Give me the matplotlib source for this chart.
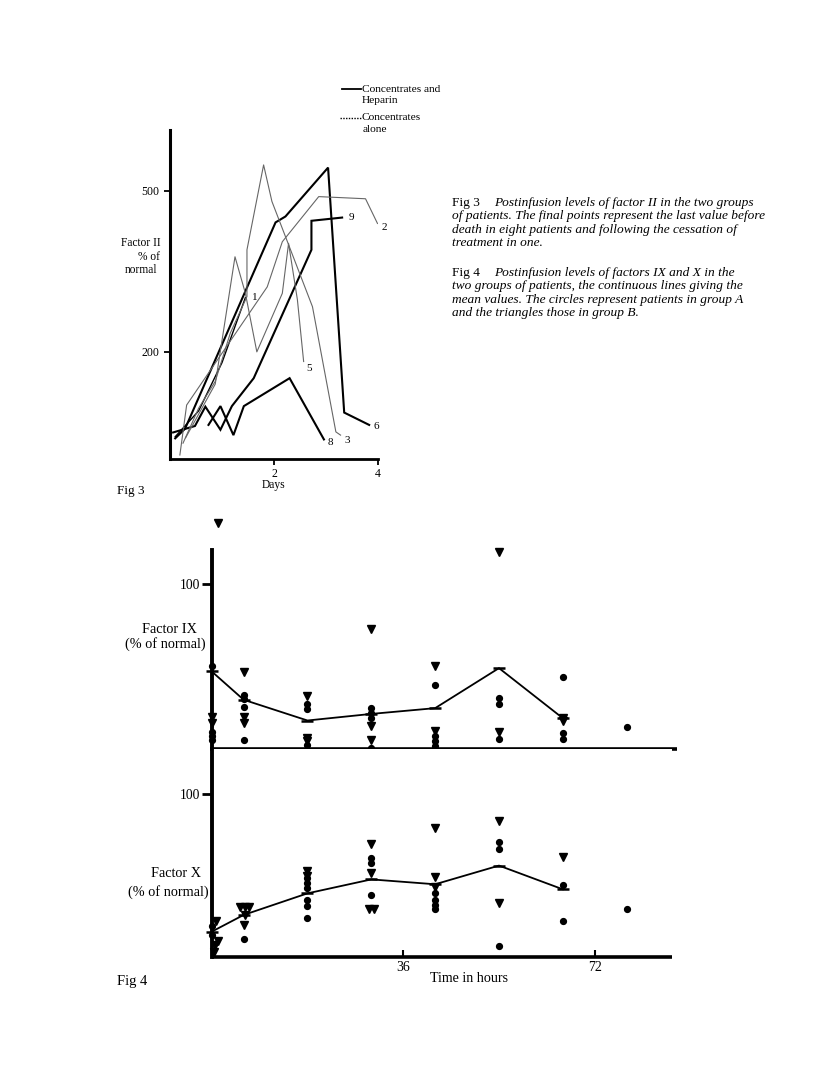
import matplotlib
matplotlib.use("Agg")
import matplotlib.pyplot as plt
from matplotlib.lines import Line2D

plt.rcParams['font.family'] = ['Liberation Serif', 'DejaVu Serif']

# ---------------- Fig 3 data (days, factor II % of normal) ----------------
line1_days = [0.1, 0.55, 1.0, 1.45]
line1_vals = [42, 90, 180, 301]
line2_days = [0.19, 0.32, 1.87, 2.16, 2.86, 3.76, 3.99]
line2_vals = [8, 101, 321, 405, 489, 485, 439]
line3_days = [0.25, 0.55, 0.87, 1.16, 1.48, 1.48, 1.80, 1.96, 2.74, 3.19, 3.28]
line3_vals = [30, 95, 145, 235, 303, 390, 548, 480, 284, 51, 45]
line5_days = [0.3, 0.87, 1.25, 1.45, 1.67, 2.16, 2.28, 2.45, 2.57]
line5_vals = [40, 140, 377, 309, 200, 309, 402, 297, 182]
line6_days = [0.1, 0.29, 2.03, 2.22, 3.04, 3.35, 3.83]
line6_vals = [39, 57, 441, 452, 543, 87, 64]
line8_days = [0.74, 0.97, 1.22, 1.42, 2.30, 2.96]
line8_vals = [64, 99, 45, 99, 151, 37]
line9_days = [0.06, 0.48, 0.68, 0.97, 1.19, 1.61, 2.72, 2.72, 3.31]
line9_vals = [50, 62, 98, 55, 99, 151, 390, 444, 450]
heparin_lines = {"1": (line1_days, line1_vals), "6": (line6_days, line6_vals),
                 "8": (line8_days, line8_vals), "9": (line9_days, line9_vals)}
alone_lines = {"2": (line2_days, line2_vals), "3": (line3_days, line3_vals),
               "5": (line5_days, line5_vals)}
fig3_xticks = [2, 4]
fig3_yticks = [200, 500]

# ---------------- Fig 4 data (hours, % of normal) ----------------
ix_circle_hours = [0, 0, 0, 0, 6, 6, 6, 6, 18, 18, 18, 30, 30, 30, 30,
                   42, 42, 42, 42, 54, 54, 54, 66, 66, 66, 78]
ix_circle_vals = [49.8, 10.3, 7.3, 5.3, 32.6, 30.0, 25.5, 5.3, 26.9, 23.9, 2.2,
                  24.5, 21.5, 18.4, 0.6, 38.7, 7.3, 4.7, 1.6, 30.6, 26.9, 5.7,
                  43.7, 9.7, 5.7, 13.0]
ix_tri_hours = [1.2, 0, 0, 6, 6, 6, 18, 18, 18, 30, 30, 30, 42, 42, 54, 54, 66, 66]
ix_tri_vals = [137, 19.4, 15.4, 46.4, 19.4, 15.4, 31.6, 6.3, 4.3, 72.5, 13.8, 5.3,
               49.8, 10.9, 119.6, 10.3, 18.4, 16.4]
mean_hours = [0, 6, 18, 30, 42, 54, 66]
ix_mean = [46.8, 29.6, 17.0, 21.0, 24.5, 48.8, 18.4]

x_circle_hours = [0, 0, 6, 18, 18, 18, 18, 18, 18, 30, 30, 30,
                  42, 42, 42, 42, 54, 54, 54, 66, 66, 78]
x_circle_vals = [18.9, 13.3, 10.7, 48.3, 45.2, 42.1, 34.9, 31.2, 24.0, 60.6, 57.5, 38.0,
                 39.0, 34.9, 31.8, 29.2, 70.8, 66.3, 6.8, 44.1, 22.0, 29.2]
x_tri_hours = [0.85, 1.16, 0.7, 0.5, 5.3, 6.2, 7.1, 6.2, 6.0, 18, 18,
               30, 30, 29.5, 30.6, 42, 42, 42, 54, 54, 66]
x_tri_vals = [22.2, 9.9, 7.2, 3.1, 30.4, 30.4, 30.4, 25.7, 19.5, 53.0, 49.5,
              69.4, 51.7, 29.6, 29.6, 79.1, 49.3, 42.7, 83.8, 33.3, 61.2]
x_mean = [15.4, 25.7, 39.0, 47.6, 44.6, 56.1, 41.5]
fig4_xticks = [36, 72]
fig4_yticks = [100]

# ---------------- layout helpers ----------------
W, H = 816, 1086
fig = plt.figure(figsize=(W / 100, H / 100), dpi=100)


def fx(x):
    return x / W


def fy(y):
    return 1 - y / H


def ftext(x, y, s, **kw):
    kw.setdefault('va', 'center')
    kw.setdefault('color', 'black')
    fig.text(fx(x), fy(y), s, **kw)


# ================= Fig 3 =================
ax3 = fig.add_axes([fx(170), fy(459.3), (378 - 170) / W, (459.3 - 130) / H])
ax3.set_xlim(0, 4)
ax3.set_ylim(0, 613)
for s in ['top', 'right']:
    ax3.spines[s].set_visible(False)
ax3.spines['left'].set_linewidth(2.2)
ax3.spines['bottom'].set_linewidth(2.0)
ax3.set_xticks(fig3_xticks)
ax3.set_yticks(fig3_yticks)
ax3.tick_params(axis='both', length=4, width=1.3, labelsize=8.5, pad=2.5, direction='out')
ax3.tick_params(axis='y', pad=3.5)

label_offsets = {"1": (5, 0), "6": (3, -1), "8": (3, -2), "9": (5, 0),
                 "2": (3, -3), "3": (3, -4), "5": (2, -5)}
for name, (d, v) in heparin_lines.items():
    ax3.plot(d, v, color='black', lw=1.5 if name != "1" else 1.0, solid_joinstyle='miter')
    ox, oy = label_offsets[name]
    ax3.annotate(name, (d[-1], v[-1]), xytext=(ox, oy), textcoords='offset points',
                 fontsize=8, va='center', ha='left')
for name, (d, v) in alone_lines.items():
    ax3.plot(d, v, color='0.4', lw=0.8)
    ox, oy = label_offsets[name]
    ax3.annotate(name, (d[-1], v[-1]), xytext=(ox, oy), textcoords='offset points',
                 fontsize=8, va='center', ha='left')

ftext(141, 243.3, "Factor II", fontsize=8.3, ha='center')
ftext(149, 257.3, "% of", fontsize=8.3, ha='center')
ftext(141, 270, "normal", fontsize=8.3, ha='center')
ftext(274, 485, "Days", fontsize=8.3, ha='center')
ftext(117, 491, "Fig 3", fontsize=9.5, ha='left')

# legend
fig.add_artist(Line2D([fx(342), fx(361)], [fy(89.3), fy(89.3)], color='black', lw=1.3))
fig.add_artist(Line2D([fx(340), fx(361)], [fy(117.7), fy(117.7)], color='black', lw=1.0,
                      ls=(0, (1, 1))))
ftext(361.5, 89.3, "Concentrates and", fontsize=8.2, ha='left')
ftext(361.5, 100.5, "Heparin", fontsize=8.2, ha='left')
ftext(362, 117.7, "Concentrates", fontsize=8.2, ha='left')
ftext(363, 129.5, "alone", fontsize=8.2, ha='left')

# captions
cap_fs = 9.6
c3 = [203, 216.3, 229.6, 243]
c4 = [273, 286.3, 299.6, 313]
ftext(452, c3[0], "Fig 3", fontsize=cap_fs, ha='left')
ftext(494, c3[0], "Postinfusion levels of factor II in the two groups", fontsize=cap_fs,
      ha='left', style='italic')
ftext(452, c3[1], "of patients. The final points represent the last value before",
      fontsize=cap_fs, ha='left', style='italic')
ftext(452, c3[2], "death in eight patients and following the cessation of",
      fontsize=cap_fs, ha='left', style='italic')
ftext(452, c3[3], "treatment in one.", fontsize=cap_fs, ha='left', style='italic')
ftext(452, c4[0], "Fig 4", fontsize=cap_fs, ha='left')
ftext(494, c4[0], "Postinfusion levels of factors IX and X in the", fontsize=cap_fs,
      ha='left', style='italic')
ftext(452, c4[1], "two groups of patients, the continuous lines giving the",
      fontsize=cap_fs, ha='left', style='italic')
ftext(452, c4[2], "mean values. The circles represent patients in group A",
      fontsize=cap_fs, ha='left', style='italic')
ftext(452, c4[3], "and the triangles those in group B.", fontsize=cap_fs, ha='left',
      style='italic')

# ================= Fig 4 =================
axT = fig.add_axes([fx(211.7), fy(748.5), (677 - 211.7) / W, (748.5 - 550) / H])
axT.set_xlim(0, (677 - 211.7) / 5.32)
axT.set_ylim(0, (748.5 - 550) / 1.647)
axB = fig.add_axes([fx(211.7), fy(956.7), (672 - 211.7) / W, (956.7 - 748.5) / H])
axB.set_xlim(0, (672 - 211.7) / 5.32)
axB.set_ylim(0, (956.7 - 748.5) / 1.624)

for ax in (axT, axB):
    for s in ['top', 'right']:
        ax.spines[s].set_visible(False)
    ax.spines['left'].set_linewidth(2.8)
    ax.spines['bottom'].set_linewidth(2.6)
    ax.spines['bottom'].set_capstyle('butt')
    ax.set_yticks(fig4_yticks)
    ax.tick_params(axis='y', length=7, width=2.0, labelsize=9.8, pad=1, direction='out')

axT.set_xticks([])
axB.set_xticks(fig4_xticks)
axB.tick_params(axis='x', length=5, width=1.5, labelsize=10, pad=3, direction='in')

for ax, ch, cv, th, tv, mv in ((axT, ix_circle_hours, ix_circle_vals, ix_tri_hours, ix_tri_vals, ix_mean),
                               (axB, x_circle_hours, x_circle_vals, x_tri_hours, x_tri_vals, x_mean)):
    ax.plot(mean_hours, mv, color='black', lw=1.3, marker='_', ms=8, mew=1.8, clip_on=False)
    ax.plot(ch, cv, ls='none', marker='o', ms=4.2, color='black', clip_on=False)
    ax.plot(th, tv, ls='none', marker='v', ms=5.8, color='black', clip_on=False)

ftext(169, 629.5, "Factor IX", fontsize=10.3, ha='center')
ftext(165, 644.5, "(% of normal)", fontsize=10.3, ha='center')
ftext(176, 873.5, "Factor X", fontsize=10.3, ha='center')
ftext(168, 892, "(% of normal)", fontsize=10.3, ha='center')
ftext(469, 979, "Time in hours", fontsize=10.1, ha='center')
ftext(117, 981, "Fig 4", fontsize=10.5, ha='left')

fig.savefig("out.png", dpi=100, facecolor='white')
